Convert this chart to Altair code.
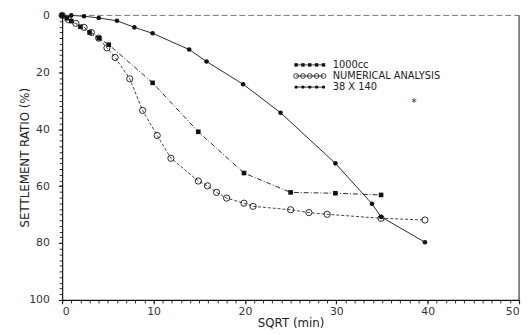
import altair as alt
import pandas as pd

# --- data ---
# "38 X 140" (top curve, filled dots)
s38_x = [0, 1, 2.4, 4, 6, 7.9, 9.9, 13.9, 15.8, 19.8, 23.9, 29.9, 33.9, 34.9, 39.7]
s38_y = [0, 0, 0.3, 0.9, 1.9, 4.2, 6.3, 12, 16.2, 24.2, 34.2, 52, 66.2, 70.8, 79.7]

# "1000cc" (middle curve, filled squares)
s1000_x = [0, 0.5, 1, 2, 3, 4, 5.1, 9.9, 14.9, 19.9, 25, 29.9, 34.9]
s1000_y = [0, 1, 2, 4, 6, 8, 10.3, 23.7, 40.9, 55.4, 62.2, 62.5, 63.1]

# "NUMERICAL ANALYSIS" (open circles)
num_x = [0, 0.7, 1.5, 2.4, 3.2, 4, 4.9, 5.8, 7.4, 8.8, 10.4, 11.9, 14.9, 15.9,
         16.9, 18, 19.9, 20.9, 25, 27, 29, 34.9, 39.7]
num_y = [0, 1.5, 2.8, 4.2, 6, 8, 11.4, 14.8, 22.3, 33.4, 42.2, 50.2, 58.2, 59.9,
         62.2, 64.2, 66, 67.1, 68.3, 69.3, 69.9, 71.3, 71.9]

legend_labels = ["1000cc", "NUMERICAL ANALYSIS", "38  X  140"]
x_major = [0, 10, 20, 30, 40, 50]
y_major = [0, 20, 40, 60, 80, 100]
x_minor = list(range(0, 51, 1))
y_minor = list(range(0, 101, 2))

FONT = "DejaVu Sans"
INK = "#111111"

xs = alt.Scale(domain=[0, 50], nice=False, zero=True)
ys = alt.Scale(domain=[0, 100], reverse=True, nice=False)

x_axis = alt.Axis(values=x_major, title="SQRT  (min)", grid=False, tickSize=4,
                  labelPadding=2, titlePadding=1, orient="bottom")
y_axis = alt.Axis(values=y_major, title="SETTLEMENT RATIO  (%)", grid=False,
                  tickSize=4, labelPadding=9, titleX=-31, titleY=144, orient="left")
x_axis_minor = alt.Axis(values=x_minor, labels=False, title=None, grid=False,
                        domain=False, tickSize=3, orient="bottom")
y_axis_minor = alt.Axis(values=y_minor, labels=False, title=None, grid=False,
                        domain=False, tickSize=3, orient="left")

NX = alt.X("x:Q", scale=xs, axis=None)
NY = alt.Y("y:Q", scale=ys, axis=None)

d38 = pd.DataFrame({"x": s38_x, "y": s38_y})
d1000 = pd.DataFrame({"x": s1000_x, "y": s1000_y})
dnum = pd.DataFrame({"x": num_x, "y": num_y})

line38 = alt.Chart(d38).mark_line(color=INK, strokeWidth=0.9).encode(
    x=alt.X("x:Q", scale=xs, axis=x_axis), y=alt.Y("y:Q", scale=ys, axis=y_axis),
    order="x:Q")

# invisible layer carrying the minor ticks
minor = alt.Chart(d38).mark_point(opacity=0).encode(
    x=alt.X("x:Q", scale=xs, axis=x_axis_minor),
    y=alt.Y("y:Q", scale=ys, axis=y_axis_minor))

pts38 = alt.Chart(d38).mark_point(filled=True, shape="circle", size=22, color=INK, opacity=1).encode(
    x=NX, y=NY)

line1000 = alt.Chart(d1000).mark_line(color=INK, strokeWidth=0.9, strokeDash=[5, 2, 1, 2]).encode(
    x=NX, y=NY, order="x:Q")
pts1000 = alt.Chart(d1000).mark_point(filled=True, shape="square", size=22, color=INK, opacity=1).encode(
    x=NX, y=NY)

linenum = alt.Chart(dnum).mark_line(color=INK, strokeWidth=0.8, strokeDash=[3, 2]).encode(
    x=NX, y=NY, order="x:Q")
ptsnum = alt.Chart(dnum).mark_point(filled=False, shape="circle", size=40, color=INK,
                                    strokeWidth=0.9, opacity=1).encode(x=NX, y=NY)

# frame: dashed top, solid right
frame_df = pd.DataFrame({"x0": [0], "x1": [50], "y0": [0], "y1": [100]})
top_rule = alt.Chart(frame_df).mark_rule(
    color="#555", strokeWidth=0.8, strokeDash=[6, 3]).encode(
    x=alt.X("x0:Q", scale=xs, axis=None), x2="x1:Q",
    y=alt.Y("y0:Q", scale=ys, axis=None))
right_rule = alt.Chart(frame_df).mark_rule(color=INK, strokeWidth=1).encode(
    x=alt.X("x1:Q", scale=xs, axis=None),
    y=alt.Y("y0:Q", scale=ys, axis=None), y2="y1:Q")

# in-plot legend
leg_rows_y = [17.4, 21.3, 25.2]
leg_marker_x = [25.6, 26.35, 27.1, 27.85, 28.6]
leg_shapes = ["square", "circle", "circle"]
leg_filled = [True, False, True]
leg_sizes = [12, 24, 12]
leg_layers = []
for lab, ly, shp, fl, sz in zip(legend_labels, leg_rows_y, leg_shapes, leg_filled, leg_sizes):
    dm = pd.DataFrame({"x": leg_marker_x, "y": [ly] * len(leg_marker_x)})
    leg_layers.append(
        alt.Chart(dm).mark_point(shape=shp, filled=fl, size=sz, color=INK, opacity=1,
                                 strokeWidth=0.8).encode(x=NX, y=NY))
    leg_layers.append(
        alt.Chart(dm).mark_line(color=INK, strokeWidth=0.8).encode(x=NX, y=NY))
legend_text = pd.DataFrame({"x": [29.6] * 3, "y": leg_rows_y, "t": legend_labels})
leg_txt = alt.Chart(legend_text).mark_text(
    align="left", baseline="middle", font=FONT, fontSize=10, color="#222").encode(
    x=NX, y=NY, text="t:N")

stray = alt.Chart(pd.DataFrame({"x": [38.5], "y": [30.8]})).mark_text(
    font=FONT, fontSize=11, baseline="middle").encode(
    x=NX, y=NY, text=alt.value("*"), color=alt.value("#333"))

chart = alt.layer(
    line38, minor, line1000, linenum, top_rule, right_rule,
    pts38, pts1000, ptsnum, *leg_layers, leg_txt, stray
).resolve_axis(x="independent", y="independent").properties(
    width=464, height=289,
    padding={"left": 55, "top": 5, "right": 4, "bottom": 28},
    autosize=alt.AutoSizeParams(type="none"),
    background="white",
).configure_view(stroke=None).configure_axis(
    domainColor=INK, domainWidth=1.2, tickColor=INK, tickWidth=0.9,
    labelFont=FONT, labelFontSize=11, labelColor="#333",
    titleFont=FONT, titleFontSize=12, titleFontWeight="normal", titleColor="#222",
)

chart.save("out.html", embed_options={"renderer": "svg", "actions": False})
